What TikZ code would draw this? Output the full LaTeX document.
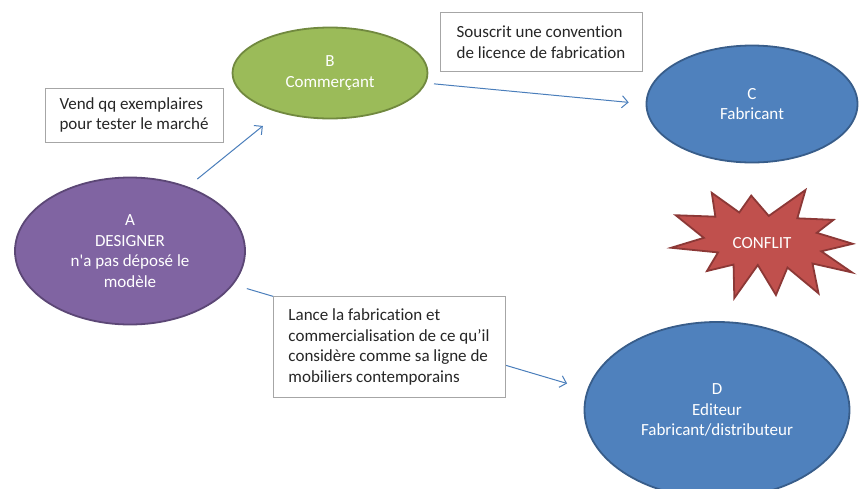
\documentclass[tikz,border=0pt]{standalone}
\usepackage{fontspec}
\setmainfont{Carlito}[Ligatures={TeXOff,NoCommon}]
\usepackage{tikz}
\usetikzlibrary{arrows.meta, shapes.geometric}
\definecolor{violet1}{HTML}{8064A2}
\definecolor{violet2}{HTML}{5C4776}
\definecolor{vert1}{HTML}{9BBB59}
\definecolor{vert2}{HTML}{71893F}
\definecolor{bleu1}{HTML}{4F81BD}
\definecolor{bleu2}{HTML}{385D8A}
\definecolor{rouge1}{HTML}{C0504D}
\definecolor{rouge2}{HTML}{8C3836}
\definecolor{fleche}{HTML}{4A7EBB}
\tikzset{
  acteur/.style={ellipse, line width=1.8pt, inner sep=0pt, text=white,
                 align=center, font={\fontsize{17}{20.5}\selectfont}},
  note/.style={rectangle, draw=black!35, fill=white, line width=0.8pt,
               inner sep=0pt, align=left, text=black!85,
               font={\fontsize{17}{20.5}\selectfont}},
  arc/.style={-{Straight Barb[length=6pt, width=12pt]}, draw=fleche, line width=1pt}
}

\begin{document}
\begin{tikzpicture}[x=1pt, y=1pt]
  \fill[white] (0,0) rectangle (860,-488);
  \useasboundingbox (0,0) rectangle (860,-488);

  % acteurs
  \node[acteur, fill=violet1, draw=violet2, minimum width=230, minimum height=147]
    (A) at (130,-251) {A\\DESIGNER\\n'a pas déposé le\\modèle};
  \node[acteur, fill=vert1, draw=vert2, minimum width=195, minimum height=91]
    (B) at (330,-73) {B\\Commerçant};
  \node[acteur, fill=bleu1, draw=bleu2, minimum width=211, minimum height=117]
    (C) at (752,-104) {C\\Fabricant};
  \node[acteur, fill=bleu1, draw=bleu2, minimum width=265, minimum height=176]
    (D) at (717,-410) {D\\Editeur\\Fabricant/distributeur};

  % relations
  \draw[arc, shorten <=12pt, shorten >=21pt] (A.48) -- (B.218);
  \draw[arc, shorten <=8pt, shorten >=17pt] (B.-6.6) -- (C.180);
  \draw[arc, shorten <=14pt, shorten >=21pt] (A.-18.7) -- (D.171.3);

  % notes
  \node[note, minimum width=178, minimum height=54] (vend) at (134,-115)
    {Vend qq exemplaires\\pour tester le marché};
  \node[note, minimum width=202, minimum height=59] (souscrit) at (541,-42)
    {Souscrit une convention\\de licence de fabrication};
  \node[note, minimum width=232, minimum height=101] (lance) at (389,-347)
    {Lance la fabrication et\\commercialisation de ce qu’il\\considère comme sa ligne de\\mobiliers contemporains};

  % conflit
  \begin{scope}[shift={(764,-243)}, rotate=-10, xscale=0.85, yscale=-0.55, shift={(-108,-108)}]
    \draw[fill=rouge1, draw=rouge2, line width=1.8pt, line join=miter]
      (108,58) -- (145.22,0) -- (141.55,53.25) -- (183.8,44.57) -- (167.02,73.15)
      -- (210.97,81.37) -- (176.07,104.75) -- (216,132.9) -- (168.37,129.42)
      -- (181.45,180.95) -- (140.2,144.57) -- (132.47,197.37) -- (105.32,149.35)
      -- (84.85,216) -- (77.15,156.27) -- (47.62,176.17) -- (56.67,139.37)
      -- (1.35,145.87) -- (37.22,117.75) -- (0,86.15) -- (46.27,76.17)
      -- (37.22,34.62) -- (73.12,61.17) -- (83.52,27.15) -- cycle;
  \end{scope}
  \node[text=white, font={\fontsize{17}{20.5}\selectfont}] (conflit) at (762,-243) {CONFLIT};
\end{tikzpicture}
\end{document}
